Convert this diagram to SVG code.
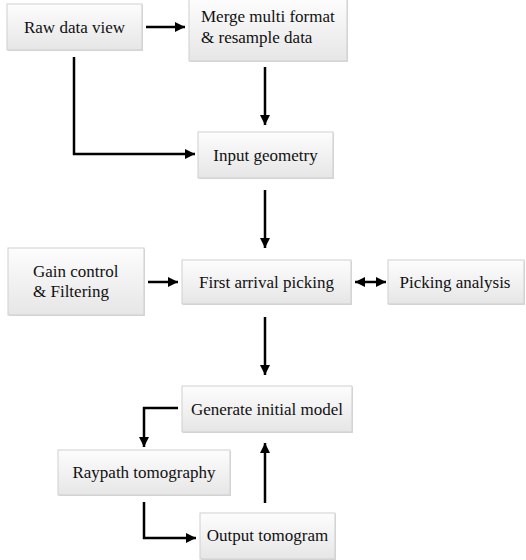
<svg xmlns="http://www.w3.org/2000/svg" width="526" height="560" viewBox="0 0 526 560">
<defs>
<linearGradient id="g" x1="0" y1="0" x2="0" y2="1">
<stop offset="0" stop-color="#fdfdfd"/>
<stop offset="1" stop-color="#e6e6e6"/>
</linearGradient>
<marker id="ah" viewBox="0 0 10 10" refX="10" refY="5" markerWidth="4" markerHeight="4" orient="auto-start-reverse" markerUnits="strokeWidth">
<path d="M0,0 L10,5 L0,10 z" fill="#000"/>
</marker>
</defs>
<style>
.box{fill:url(#g);stroke:#cfcfcf;stroke-width:1}
.sh{fill:#d8d8d8}
text{font-size:17px;fill:#111}
.c{text-anchor:middle}
.ln{fill:none;stroke:#000;stroke-width:2.5;marker-end:url(#ah)}
</style>
<rect width="526" height="560" fill="#fff"/>
<g font-family="Liberation Serif, Times New Roman, DejaVu Serif, serif">
<g id="n1"><rect class="sh" x="8" y="5" width="135" height="46"/><rect class="box" x="7" y="4" width="135" height="46"/><text class="c" x="74.5" y="33">Raw data view</text></g>
<g id="n2"><rect class="sh" x="190" y="0" width="158" height="62"/><rect class="box" x="189" y="-1" width="158" height="62"/><text x="201" y="22">Merge multi format</text><text x="201" y="43">&amp; resample data</text></g>
<g id="n3"><rect class="sh" x="199" y="133" width="135" height="46"/><rect class="box" x="198" y="132" width="135" height="46"/><text class="c" x="265.5" y="161">Input geometry</text></g>
<g id="n4"><rect class="sh" x="9" y="249" width="136" height="67"/><rect class="box" x="8" y="248" width="136" height="67"/><text x="33" y="277">Gain control</text><text x="33" y="297">&amp; Filtering</text></g>
<g id="n5"><rect class="sh" x="183" y="261" width="169" height="44"/><rect class="box" x="182" y="260" width="169" height="44"/><text class="c" x="266.5" y="288">First arrival picking</text></g>
<g id="n6"><rect class="sh" x="389" y="261" width="136" height="44"/><rect class="box" x="388" y="260" width="136" height="44"/><text class="c" x="455" y="288">Picking analysis</text></g>
<g id="n7"><rect class="sh" x="183" y="387" width="170" height="46"/><rect class="box" x="182" y="386" width="170" height="46"/><text class="c" x="267" y="415">Generate initial model</text></g>
<g id="n8"><rect class="sh" x="59" y="451" width="172" height="45"/><rect class="box" x="58" y="450" width="172" height="45"/><text class="c" x="144" y="478">Raypath tomography</text></g>
<g id="n9"><rect class="sh" x="201" y="514" width="135" height="46"/><rect class="box" x="200" y="513" width="135" height="46"/><text class="c" x="267.5" y="541">Output tomogram</text></g>
</g>
<g id="connectors">
<path class="ln" d="M146,27 H185"/>
<path class="ln" d="M74,57 V154 H195"/>
<path class="ln" d="M265,67 V125"/>
<path class="ln" d="M265,190 V248"/>
<path class="ln" d="M148,282 H178"/>
<path class="ln" d="M355,282 H386" style="marker-start:url(#ah)"/>
<path class="ln" d="M265,317 V375"/>
<path class="ln" d="M178,408 H144 V447"/>
<path class="ln" d="M144,502 V538 H196"/>
<path class="ln" d="M265,503 V443"/>
</g>
</svg>
